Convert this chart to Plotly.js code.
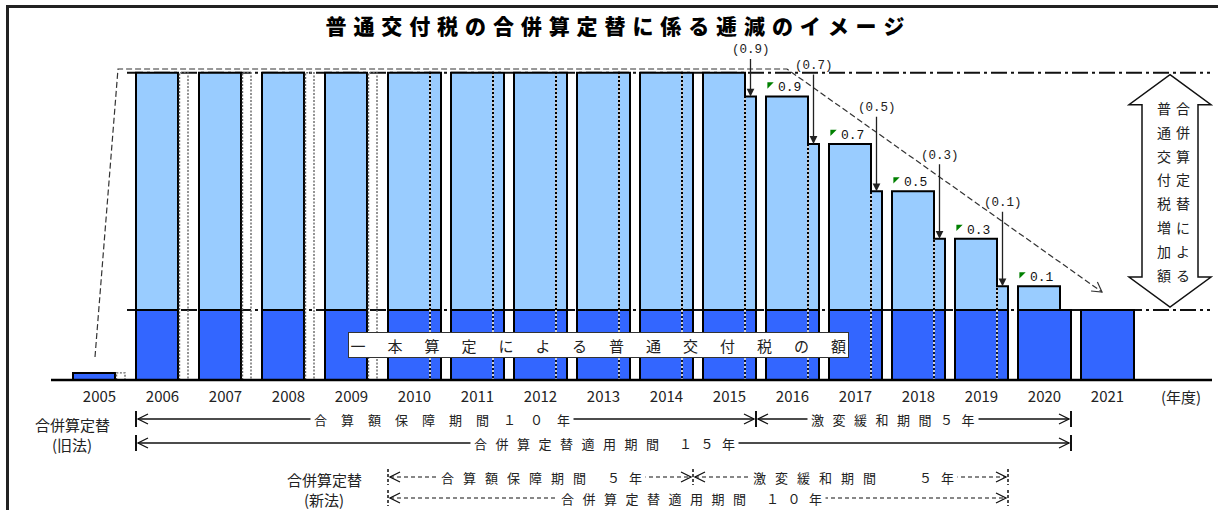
<!DOCTYPE html>
<html><head><meta charset="utf-8">
<script src="https://cdn.plot.ly/plotly-3.0.1.min.js"></script>
<style>html,body{margin:0;padding:0;background:#fff;}#chart{width:1218px;height:510px;}</style>
</head><body><div id="chart"></div>
<script>
// ---------------- data ----------------
const years = [2005,2006,2007,2008,2009,2010,2011,2012,2013,2014,2015,2016,2017,2018,2019,2020,2021];
const yearLabels = ['2005','2006','2007','2008','2009','2010','2011','2012','2013','2014','2015','2016','2017','2018','2019','2020','2021'];
// 一本算定による普通交付税の額 (arbitrary units)
const baseAmount = [3,29.5,29.5,29.5,29.5,29.5,29.5,29.5,29.5,29.5,29.5,29.5,29.5,29.5,29.5,29.5,29.5];
// 合併算定替による増加額 (full)
const increment = 100;
// 旧法 factor applied to the increase
const wideFactor = [0,1,1,1,1,1,1,1,1,1,1,0.9,0.7,0.5,0.3,0.1,0];
// 新法 factor (null = not applicable)
const narrowFactor = [null,null,null,null,null,1,1,1,1,1,0.9,0.7,0.5,0.3,0.1,0,0];
const unitLabel = '(年度)';
const oldLaw = {label:'合併算定替', sub:'(旧法)', start:2006, guaranteeEnd:2015, end:2020,
  guaranteeText:'合算額保障期間１０年', easingText:'激変緩和期間５年', totalText:'合併算定替適用期間 １５年'};
const newLaw = {label:'合併算定替', sub:'(新法)', start:2010, guaranteeEnd:2014, end:2019,
  guaranteeText:'合算額保障期間 ５年', easingText:'激変緩和期間　 ５年', totalText:'合併算定替適用期間 １０年'};
const titleText = '普通交付税の合併算定替に係る逓減のイメージ';
const baseBoxText = '一本算定による普通交付税の額';
const sideText = ['普合','通併','交算','付定','税替','増に','加よ','額る'];

// ---------------- geometry ----------------
const W = 1218, H = 510;
const X2005_PX = 99.5, PX_PER_YEAR = 63, BASE_PX = 380, PX_PER_UNIT = 2.373;
const X0 = 2005 - X2005_PX / PX_PER_YEAR, X1 = X0 + W / PX_PER_YEAR;
const Y1 = BASE_PX / PX_PER_UNIT, Y0 = -(H - BASE_PX) / PX_PER_UNIT;
const xd = px => X0 + px / PX_PER_YEAR;
const yd = py => (BASE_PX - py) / PX_PER_UNIT;
const xp = x => (x - X0) * PX_PER_YEAR;
const yp = y => BASE_PX - y * PX_PER_UNIT;
const u = px => px / PX_PER_YEAR;
const WIDE_OFF = u(-26.5), WIDE_W = u(42), NAR_OFF = u(15.5), NAR_W = u(11), GROUP_W = u(53);
const FONT = '"Noto Sans CJK JP", "Noto Sans", sans-serif';
const MONO = '"Liberation Mono", "DejaVu Sans Mono", monospace';
const ls = (t, s) => `<span style="letter-spacing:${s}px">${t.slice(0,-1)}</span>${t.slice(-1)}`;

// ---------------- traces ----------------
const traces = [];
traces.push({type:'bar', x:years, y:baseAmount, offset:WIDE_OFF,
  width: years.map((_,i)=> narrowFactor[i]===null ? WIDE_W : GROUP_W),
  marker:{color:'#3366FF', line:{color:'#000', width:2}}, hoverinfo:'skip'});
traces.push({type:'bar', x:years, y:wideFactor.map(f=> f>0 ? f*increment : null), base:baseAmount,
  offset:WIDE_OFF, width:WIDE_W, marker:{color:'#99CCFF', line:{color:'#000', width:2}}, hoverinfo:'skip'});
traces.push({type:'bar', x:years, y:narrowFactor.map(f=> f>0 ? f*increment : null), base:baseAmount,
  offset:NAR_OFF, width:NAR_W, marker:{color:'#99CCFF', line:{color:'#000', width:2}}, hoverinfo:'skip'});
const wIdx = years.map((_,i)=>i).filter(i=>narrowFactor[i]===null);
traces.push({type:'bar', x:wIdx.map(i=>years[i]), y:wIdx.map(i=>baseAmount[i]+wideFactor[i]*increment),
  offset:NAR_OFF, width:NAR_W, marker:{color:'rgba(255,255,255,0)', line:{width:0}}, hoverinfo:'skip'});
// dotted outlines of the not-applicable narrow boxes
const ox=[], oy=[];
wIdx.forEach(i=>{ const h=baseAmount[i]+wideFactor[i]*increment, L=years[i]+u(17), R=years[i]+u(25.5);
  ox.push(L,L,R,R,null); oy.push(0,h,h,0,null); });
traces.push({type:'scatter', mode:'lines', x:ox, y:oy, line:{color:'#666', width:1.4, dash:'2px,1.5px'}, hoverinfo:'skip'});
// dotted separators between 旧法 and 新法 parts
const sx=[], sy=[];
years.forEach((yr,i)=>{ const f=narrowFactor[i]; if(f>0){ const x=yr+NAR_OFF; sx.push(x,x,null); sy.push(0, baseAmount[i]+f*increment-0.4, null);} });
traces.push({type:'scatter', mode:'lines', x:sx, y:sy, line:{color:'#000', width:1.6}, hoverinfo:'skip'});
traces.push({type:'scatter', mode:'lines', x:sx, y:sy, line:{color:'#fff', width:1.6, dash:'2px,2px'}, hoverinfo:'skip'});
// green corner marks
const gIdx = years.map((_,i)=>i).filter(i=>wideFactor[i]>0 && wideFactor[i]<1);
traces.push({type:'scatter', mode:'markers', x:gIdx.map(i=>years[i]+u(-23)),
  y:gIdx.map(i=>baseAmount[i]+wideFactor[i]*increment+12/PX_PER_UNIT),
  marker:{symbol:'triangle-nw', size:7, color:'#008000'}, hoverinfo:'skip'});

// ---------------- annotations ----------------
const ann = [];
gIdx.forEach(i=>{
  ann.push({x:years[i]+u(-16.5), y:baseAmount[i]+wideFactor[i]*increment, xref:'x', yref:'y', xanchor:'left', yanchor:'middle',
    yshift:8.5, text:wideFactor[i].toFixed(1), showarrow:false, font:{family:MONO, size:13, color:'#111'}});
});
const aIdx = years.map((_,i)=>i).filter(i=>narrowFactor[i]>0 && narrowFactor[i]<1);
const arrowLift = [46,78,83,83,83];
aIdx.forEach((i,k)=>{
  ann.push({x:years[i]+u(21), y:baseAmount[i]+narrowFactor[i]*increment, xref:'x', yref:'y', ax:0, ay:-arrowLift[k],
    text:'('+narrowFactor[i].toFixed(1)+')', showarrow:true, arrowhead:2, arrowsize:1.2, arrowwidth:1.3, arrowcolor:'#222',
    standoff:0, font:{family:MONO, size:12.5, color:'#222'}});
});
function txt(px, py, text, size, opts){
  ann.push(Object.assign({x:xd(px), y:yd(py), xref:'x', yref:'y', text, showarrow:false, xanchor:'center', yanchor:'middle',
    font:{family:FONT, size, color:'#222'}}, opts||{}));
}
txt(1181, 396, unitLabel, 15);
txt(72, 424, oldLaw.label, 15); txt(72, 444, oldLaw.sub, 15);
txt(324.5, 479, newLaw.label, 15); txt(323.5, 499, newLaw.sub, 15);
const rowTxt = (left, py, text, sp) => txt(left-3, py, ls(text, sp), 13, {xanchor:'left', bgcolor:'#fff', borderpad:3});
const ROW = [419, 443, 477, 498];
rowTxt(313, ROW[0], oldLaw.guaranteeText, 14);
rowTxt(810, ROW[0], oldLaw.easingText, 8.5);
rowTxt(473, ROW[1], oldLaw.totalText, 8.5);
rowTxt(440, ROW[2], newLaw.guaranteeText, 9);
rowTxt(752, ROW[2], newLaw.easingText, 9);
rowTxt(560, ROW[3], newLaw.totalText, 8.5);
txt(348, 345, ls(baseBoxText, 22), 15, {xanchor:'left', bgcolor:'#fff', bordercolor:'#333', borderwidth:1, borderpad:1.5});
sideText.forEach((t,k)=> txt(1173.5, 108 + k*23.8, ls(t,5), 14));

// ---------------- shapes ----------------
const shapes = [];
function addPath(pts, line, layer, fill){
  shapes.push({type:'path', xref:'x', yref:'y', path:'M'+pts.map(p=>xd(p[0])+','+yd(p[1])).join('L')+(fill?'Z':''),
    line, layer:layer||'above', fillcolor: fill||'rgba(0,0,0,0)'});
}
const solid = {color:'#111', width:1.3};
function chevron(tip, y, dir, line){ addPath([[tip-dir*10,y-5],[tip,y],[tip-dir*10,y+5]], line||solid); }
function head(tx, ty, fx, fy, len){
  const dx=tx-fx, dy=ty-fy, L=Math.hypot(dx,dy), ux=dx/L, uy=dy/L, a=Math.PI/6;
  const r=(c,s)=>[tx-len*(ux*c-uy*s), ty-len*(uy*c+ux*s)];
  addPath([r(Math.cos(a),Math.sin(a)),[tx,ty],r(Math.cos(a),-Math.sin(a))], {color:'#333', width:1.2});
}
const gs = y => xp(y) - 26.5, ge = y => xp(y) + 26.5;
// frame
addPath([[7.5,510],[7.5,6.5],[1218,6.5]], {color:'#222', width:3});
// reference dash-dot levels
const fullPx = yp(baseAmount[1]+increment), basePx = yp(baseAmount[1]);
[fullPx, basePx].forEach(py=> addPath([[gs(2006)-9,py],[1210,py]], {color:'#111', width:2, dash:'16px,4px,3px,4px'}, 'below'));
// baseline
addPath([[51,BASE_PX],[1212,BASE_PX]], {color:'#000', width:2.5});
// envelope
const env = [[95,357],[118,fullPx-3.7],[787,fullPx-3.7],[1102,292]];
addPath(env, {color:'#333', width:1.2, dash:'6px,3px'});
head(1102, 292, 787, fullPx-3.7, 11);
// period rows
function tick(x, y, dashed){ addPath([[x,y-8],[x,y+8]], dashed?{color:'#111', width:1.5, dash:'3px,2px'}:{color:'#111', width:2}); }
function span(a, b, y, dashed){
  const line = dashed ? {color:'#111', width:1.2, dash:'4px,3px'} : solid;
  addPath([[a,y],[b,y]], line); chevron(a, y, -1); chevron(b, y, 1);
}
// old law
tick(gs(oldLaw.start), ROW[0]); tick(ge(oldLaw.guaranteeEnd), ROW[0]); tick(ge(oldLaw.end), ROW[0]);
span(gs(oldLaw.start)+2, ge(oldLaw.guaranteeEnd)-2, ROW[0]);
span(ge(oldLaw.guaranteeEnd)+2, ge(oldLaw.end)-2, ROW[0]);
tick(gs(oldLaw.start), ROW[1]); tick(ge(oldLaw.end), ROW[1]);
span(gs(oldLaw.start)+2, ge(oldLaw.end)-2, ROW[1]);
// new law
tick(gs(newLaw.start), ROW[2], true); tick(ge(newLaw.guaranteeEnd), ROW[2], true); tick(ge(newLaw.end), ROW[2], true);
span(gs(newLaw.start)+2, ge(newLaw.guaranteeEnd)-2, ROW[2], true);
span(ge(newLaw.guaranteeEnd)+2, ge(newLaw.end)-2, ROW[2], true);
tick(gs(newLaw.start), ROW[3], true); tick(ge(newLaw.end), ROW[3], true);
span(gs(newLaw.start)+2, ge(newLaw.end)-2, ROW[3], true);
// block double arrow
const arX=1170, arTop=fullPx+2, arBot=basePx-3, hh=41, hs=28, hb=30;
addPath([[arX,arTop],[arX+hh,arTop+hb],[arX+hs,arTop+hb],[arX+hs,arBot-hb],[arX+hh,arBot-hb],[arX,arBot],[arX-hh,arBot-hb],[arX-hs,arBot-hb],[arX-hs,arTop+hb],[arX-hh,arTop+hb]],
  {color:'#111', width:1.5}, 'above', '#fff');

const layout = {
  width:W, height:H, margin:{l:0,r:0,t:0,b:0,pad:0}, paper_bgcolor:'#fff', plot_bgcolor:'#fff',
  showlegend:false, barmode:'overlay', font:{family:FONT, color:'#222'},
  title:{text: ls(titleText, 6.9), x:615/W, xanchor:'center', xref:'paper', y:1-27/H, yanchor:'middle',
    font:{family:FONT, size:21, weight:900, color:'#000'}},
  xaxis:{range:[X0,X1], anchor:'free', position:(H-BASE_PX)/H, showgrid:false, zeroline:false, showline:false,
    tickmode:'array', tickvals:years, ticktext:yearLabels, ticks:'', ticklabelstandoff:6,
    tickfont:{family:FONT, size:15, color:'#222'}, fixedrange:true, automargin:false},
  yaxis:{range:[Y0,Y1], visible:false, fixedrange:true},
  shapes, annotations:ann
};
Plotly.newPlot('chart', traces, layout, {staticPlot:true, displayModeBar:false});
</script></body></html>
